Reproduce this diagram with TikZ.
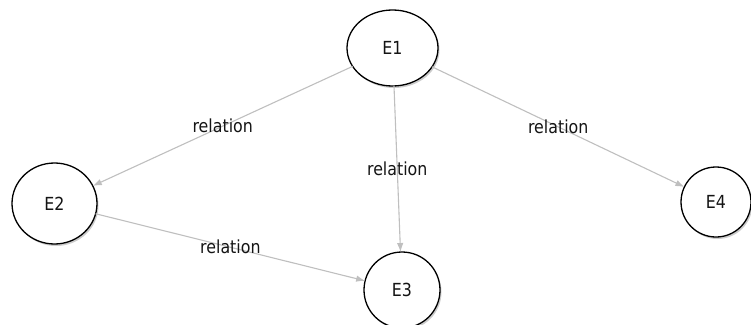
\documentclass[tikz,border=0pt]{standalone}
\usepackage{fontspec}
\setmainfont{DejaVu Sans}[FakeStretch=0.88]
\usepackage{tkz-graph}
\usetikzlibrary{arrows.meta}
\usetikzlibrary{shapes}
\usetikzlibrary{shadows}

\begin{document}
\begin{tikzpicture}[x = 1pt, y = -1pt, font=\fontsize{18}{20}\selectfont]
	\tikzstyle{VertexStyle} = []
	\tikzstyle{EdgeStyle} = [draw = black!25, line width = 1.1pt, -{Latex[length = 9pt, width = 6.5pt]}]
	\tikzstyle{LabelStyle} = [fill = none, inner sep = 0pt, text = black!92]
	\tikzstyle{entityStyle}=[shape = ellipse, draw, line width = 1.3pt, fill = white, text = black!92, drop shadow = {shadow xshift = 1.5pt, shadow yshift = -2pt, fill = black!40}]
	\useasboundingbox (0,0) rectangle (751,324);
	\Vertex[style = {entityStyle, minimum width = 91pt, minimum height = 76pt}, x = 392.5, y = 48, L = {E1}]{e1}
	\Vertex[style = {entityStyle, minimum width = 85pt, minimum height = 81pt}, x = 54.5, y = 203.5, L = {E2}]{e2}
	\Vertex[style = {entityStyle, minimum width = 76pt, minimum height = 76pt}, x = 402, y = 290, L = {E3}]{e3}
	\Vertex[style = {entityStyle, minimum width = 70pt, minimum height = 70pt}, x = 716, y = 202, L = {E4}]{e4}
	\Edge[label = {relation}, labelstyle = {fill = none}](e1)(e2)
	\Edge[label = {relation}, labelstyle = {fill = none}](e1)(e3)
	\Edge[label = {relation}, labelstyle = {fill = none}](e1)(e4)
	\Edge[label = {relation}, labelstyle = {fill = none}](e2)(e3)
\end{tikzpicture}
\end{document}
